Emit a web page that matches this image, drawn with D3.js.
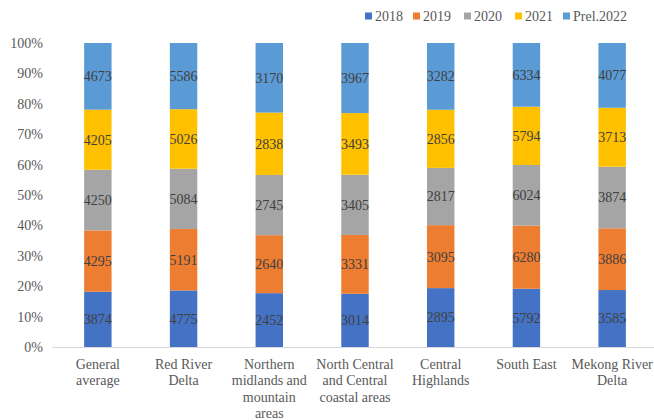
<!DOCTYPE html>
<html>
<head>
<meta charset="utf-8">
<script src="https://cdn.jsdelivr.net/npm/d3@7"></script>
<style>
  html, body { margin: 0; padding: 0; background: #fff; }
  #chart text { font-family: 'Liberation Serif', Tinos, 'Times New Roman', serif !important; font-size: 14px; }
</style>
</head>
<body>
<svg id="chart" width="654" height="420" font-family="Liberation Serif"></svg>
<script>
// Regions shown on the x axis ("\n" marks the label line breaks)
const categories = [
  "General\naverage",
  "Red River\nDelta",
  "Northern\nmidlands and\nmountain\nareas",
  "North Central\nand Central\ncoastal areas",
  "Central\nHighlands",
  "South East",
  "Mekong River\nDelta"
];

// Series names (bottom to top of each stack)
const seriesNames = ["2018", "2019", "2020", "2021", "Prel.2022"];

// Values per series, one per region
const v2018 = [3874, 4775, 2452, 3014, 2895, 5792, 3585];
const v2019 = [4295, 5191, 2640, 3331, 3095, 6280, 3886];
const v2020 = [4250, 5084, 2745, 3405, 2817, 6024, 3874];
const v2021 = [4205, 5026, 2838, 3493, 2856, 5794, 3713];
const v2022 = [4673, 5586, 3170, 3967, 3282, 6334, 4077];

const yTicks = [0, 0.1, 0.2, 0.3, 0.4, 0.5, 0.6, 0.7, 0.8, 0.9, 1.0];

const colors = ["#4472C4", "#ED7D31", "#A5A5A5", "#FFC000", "#5B9BD5"];

const seriesValues = [v2018, v2019, v2020, v2021, v2022];
const rows = categories.map((c, i) => {
  const r = { category: c };
  seriesNames.forEach((s, k) => { r[s] = seriesValues[k][i]; });
  return r;
});

const svg = d3.select("#chart");
const margin = { left: 55, right: 0, top: 43, bottom: 73 };
const W = 654, H = 420;

const x = d3.scaleBand()
  .domain(categories)
  .range([margin.left, W + 1])
  .paddingInner(0.68)
  .paddingOuter(0.34);

const y = d3.scaleLinear()
  .domain([0, 1])
  .range([H - margin.bottom, margin.top]);

const stacked = d3.stack()
  .keys(seriesNames)
  .offset(d3.stackOffsetExpand)(rows);

// Y axis (percent labels, no line or ticks)
const yAxis = svg.append("g")
  .attr("transform", `translate(${margin.left - 10},0)`)
  .call(d3.axisLeft(y).tickValues(yTicks).tickFormat(d3.format(".0%")).tickSize(0).tickPadding(2));
yAxis.attr("font-family", null).attr("font-size", null);
yAxis.select(".domain").remove();
yAxis.selectAll("text").attr("fill", "#595959");

// Bars
const layer = svg.append("g").selectAll("g")
  .data(stacked)
  .join("g")
  .attr("fill", (d, i) => colors[i]);

layer.selectAll("rect")
  .data(d => d.map(p => ({ p, key: d.key })))
  .join("rect")
  .attr("x", d => x(d.p.data.category))
  .attr("width", x.bandwidth())
  .attr("y", d => y(d.p[1]))
  .attr("height", d => y(d.p[0]) - y(d.p[1]));

// Value labels centred in each segment
layer.selectAll("text")
  .data(d => d.map(p => ({ p, key: d.key })))
  .join("text")
  .attr("x", d => x(d.p.data.category) + x.bandwidth() / 2)
  .attr("y", d => (y(d.p[0]) + y(d.p[1])) / 2)
  .attr("dy", "0.35em")
  .attr("text-anchor", "middle")
  .attr("fill", "#404040")
  .text(d => d.p.data[d.key]);

// X axis baseline
const xAxis = svg.append("g")
  .attr("transform", `translate(0,${y(0)})`)
  .call(d3.axisBottom(x).tickSize(0).tickFormat(""));
xAxis.select(".domain")
  .attr("d", `M${margin.left - 3},0.5H${W}`)
  .attr("stroke", "#D9D9D9")
  .attr("stroke-width", 1);

// Category labels, one tspan per line
const catG = svg.append("g");
categories.forEach(c => {
  const cx = x(c) + x.bandwidth() / 2;
  const t = catG.append("text")
    .attr("x", cx)
    .attr("y", y(0) + 21.5)
    .attr("text-anchor", "middle")
    .attr("fill", "#595959");
  c.split("\n").forEach((ln, i) => {
    t.append("tspan")
      .attr("x", cx)
      .attr("dy", i === 0 ? 0 : 16.5)
      .text(ln);
  });
});

// Legend
const legendX = [365, 413, 464, 515, 563];
const legend = svg.append("g");
seriesNames.forEach((s, i) => {
  const g = legend.append("g").attr("transform", `translate(${legendX[i]},16)`);
  g.append("rect")
    .attr("x", 0).attr("y", -3.5)
    .attr("width", 7).attr("height", 7)
    .attr("fill", colors[i]);
  g.append("text")
    .attr("x", 10)
    .attr("y", 0)
    .attr("dy", "0.35em")
    .attr("fill", "#595959")
    .text(s);
});
</script>
</body>
</html>
